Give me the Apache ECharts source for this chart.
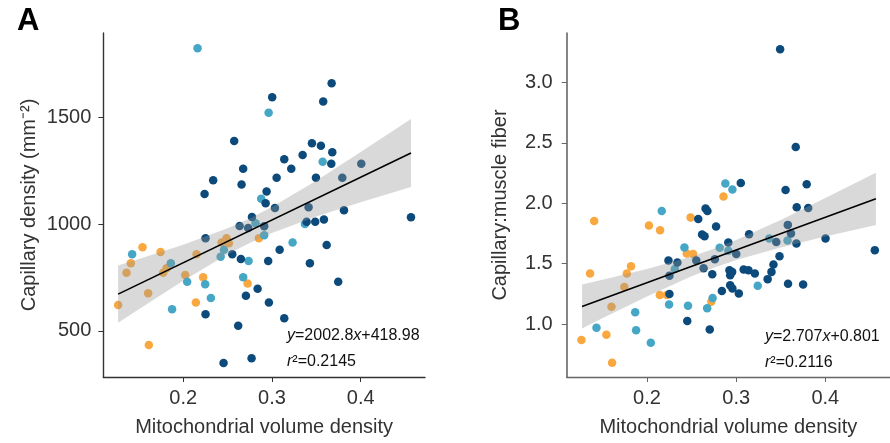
<!DOCTYPE html>
<html>
<head>
<meta charset="utf-8">
<script src="https://cdn.jsdelivr.net/npm/echarts@6/dist/echarts.min.js"></script>
<style>html,body{margin:0;padding:0;background:#fff}</style>
</head>
<body>
<div id="main" style="width:890px;height:443px;"></div>
<script>
// ---- panel A: capillary density vs mitochondrial volume density ----
var aNavy = [[0.3003,1595],[0.2575,1390],[0.3139,1305],[0.3346,1325],[0.2676,1260],[0.3218,1260],[0.2338,1206],[0.2658,1186],
  [0.3053,1218],[0.2241,1142],[0.2940,1153],[0.2929,1098],[0.3034,1076],[0.2775,1034],[0.2636,992],[0.2733,983],[0.2913,991],
  [0.3673,1661],[0.3578,1575],[0.3451,1380],[0.3552,1368],[0.3680,1337],[0.3669,1283],[0.4007,1283],[0.3496,1218],[0.3793,1218],
  [0.3413,1080],[0.3812,1066],[0.4567,1033],[0.3391,1012],[0.3488,1012],[0.3586,1022],[0.3087,880],[0.3617,903],[0.2958,828],
  [0.3428,817],[0.3747,731],[0.2839,698],[0.2966,633],[0.3139,560],[0.2771,372],[0.2252,934],[0.2553,859],[0.2650,837],
  [0.2707,665],[0.2252,578],[0.2620,525],[0.2455,350]];
var aCyan = [[0.2162,1825],[0.2963,1522],[0.2879,1120],[0.2816,1005],[0.3572,1293],[0.3372,1001],[0.2913,949],[0.3233,914],
  [0.2459,880],[0.2422,848],[0.2737,828],[0.1425,859],[0.1861,817],[0.2045,731],[0.2248,719],[0.2676,752],[0.2312,655],[0.1875,602]];
var aOrange = [[0.2853,934],[0.2433,914],[0.2489,934],[0.2515,911],[0.2151,859],[0.1542,892],[0.1745,870],[0.1410,817],
  [0.1362,773],[0.1775,773],[0.1813,794],[0.2023,762],[0.2225,752],[0.2726,722],[0.1605,677],[0.1267,622],[0.2143,633],[0.1613,434]];
var aLineX = [0.1267, 0.4567];
var aLineY = [672.7, 1333.7];
var aBandX  = [0.1267, 0.15, 0.2, 0.25, 0.275, 0.3, 0.35, 0.4, 0.4567];
var aBandLo = [538, 602, 735, 859, 912, 959, 1036, 1103, 1174];
var aBandHi = [807, 837, 904, 981, 1027, 1081, 1204, 1338, 1493];
var aTicksY = [500, 1000, 1500];

// ---- panel B: capillary:muscle fiber ----
var bNavy = [[0.3493,3.275],[0.3668,2.465],[0.3052,2.168],[0.3554,2.110],[0.3791,2.157],[0.3679,1.967],[0.3808,1.961],
  [0.2657,1.956],[0.2678,1.936],[0.2575,1.870],[0.2775,1.807],[0.3579,1.821],[0.2618,1.741],[0.2646,1.727],[0.2912,1.675],
  [0.2241,1.526],[0.2341,1.510],[0.2553,1.526],[0.2761,1.537],[0.2635,1.463],[0.2732,1.413],[0.2252,1.399],[0.2933,1.322],
  [0.2958,1.295],[0.2840,1.273],[0.2252,1.248],[0.2452,1.025],[0.2704,0.956],[0.3145,1.744],[0.3615,1.750],[0.3676,1.667],
  [0.3450,1.680],[0.4002,1.708],[0.4555,1.612],[0.3001,1.579],[0.2925,1.446],[0.2955,1.432],[0.2933,1.405],[0.3084,1.452],
  [0.3138,1.446],[0.3210,1.419],[0.3486,1.562],[0.3418,1.493],[0.3396,1.432],[0.3353,1.372],[0.3582,1.333],[0.3751,1.328],[0.3030,1.254]];
var bCyan = [[0.2879,2.163],[0.2958,2.113],[0.2166,1.936],[0.2420,1.634],[0.2815,1.631],[0.2912,1.606],[0.2312,1.455],
  [0.2248,1.163],[0.2460,1.151],[0.2736,1.215],[0.2675,1.130],[0.1868,1.097],[0.1434,0.969],[0.1878,0.948],[0.2043,0.845],
  [0.3371,1.708],[0.3576,1.692],[0.3242,1.317]];
var bOrange = [[0.2858,2.055],[0.2489,1.882],[0.1408,1.854],[0.2022,1.816],[0.2147,1.777],[0.2446,1.584],[0.2517,1.579],
  [0.1362,1.419],[0.1821,1.479],[0.1774,1.419],[0.1746,1.306],[0.2144,1.240],[0.2223,1.240],[0.1602,1.143],[0.2721,1.184],
  [0.1545,0.912],[0.1265,0.868],[0.1609,0.680]];
var bLineX = [0.1272, 0.4567];
var bLineY = [1.145, 2.037];
var bBandX  = [0.1272, 0.15, 0.2, 0.25, 0.275, 0.3, 0.35, 0.4, 0.4567];
var bBandLo = [0.963, 1.048, 1.228, 1.395, 1.467, 1.530, 1.634, 1.725, 1.821];
var bBandHi = [1.327, 1.366, 1.456, 1.560, 1.623, 1.695, 1.862, 2.043, 2.253];
var bTicksY = [1.0, 1.5, 2.0, 2.5, 3.0];

var xTicks = [0.2, 0.3, 0.4];

var NAVY = '#0b4a7b', CYAN = '#46a6c6', ORANGE = '#f9a840';
var FONT = 'Liberation Sans, Arial, sans-serif';

var chart = echarts.init(document.getElementById('main'));

function dots(data, color, idx) {
  return {
    type: 'scatter', xAxisIndex: idx, yAxisIndex: idx, data: data,
    symbolSize: 8.5, itemStyle: {color: color, opacity: 1}, z: 2, silent: true
  };
}
function band(xs, lo, hi, idx) {
  return {
    type: 'custom', xAxisIndex: idx, yAxisIndex: idx, z: 3, silent: true,
    data: [[xs[0], lo[0]]],
    renderItem: function (params, api) {
      var pts = [];
      for (var i = 0; i < xs.length; i++) pts.push(api.coord([xs[i], hi[i]]));
      for (var j = xs.length - 1; j >= 0; j--) pts.push(api.coord([xs[j], lo[j]]));
      return {type: 'polygon', shape: {points: pts}, style: {fill: 'rgba(150,150,150,0.36)'}};
    }
  };
}
function fit(xs, ys, idx) {
  return {
    type: 'line', xAxisIndex: idx, yAxisIndex: idx, z: 4, silent: true, symbol: 'none',
    data: [[xs[0], ys[0]], [xs[1], ys[1]]],
    lineStyle: {color: '#000', width: 1.6}
  };
}
function xAx(idx, lineColor) {
  return {
    type: 'value', gridIndex: idx, min: 0.11, max: 0.4725,
    name: 'Mitochondrial volume density', nameLocation: 'middle', nameGap: 40,
    nameTextStyle: {fontSize: 20, color: '#333', fontFamily: FONT},
    axisLine: {show: true, onZero: false, lineStyle: {color: lineColor, width: 1.4}},
    axisTick: {show: true, length: 5, customValues: xTicks, lineStyle: {color: lineColor}},
    axisLabel: {customValues: xTicks, fontSize: 20, color: '#333', fontFamily: FONT, margin: 11,
      formatter: function (v) { return v.toFixed(1); }},
    splitLine: {show: false}
  };
}

chart.setOption({
  animation: false,
  grid: [
    {left: 103.3, top: 33, width: 321.7, height: 344},
    {left: 566.7, top: 33, width: 336.8, height: 344}
  ],
  xAxis: [xAx(0, '#333'), xAx(1, '#666')],
  yAxis: [
    {
      type: 'value', gridIndex: 0, min: 284.4, max: 1896,
      name: 'Capillary density (mm\u207B\u00B2)', nameLocation: 'middle', nameGap: 64,
      nameTextStyle: {fontSize: 20, color: '#333', fontFamily: FONT},
      axisLine: {show: true, lineStyle: {color: '#333', width: 1.4}},
      axisTick: {show: true, length: 5, customValues: aTicksY, lineStyle: {color: '#333'}},
      axisLabel: {customValues: aTicksY, fontSize: 20, color: '#333', fontFamily: FONT, margin: 12,
        formatter: function (v) { return String(Math.round(v)); }},
      splitLine: {show: false}
    },
    {
      type: 'value', gridIndex: 1, min: 0.562, max: 3.409,
      name: 'Capillary:muscle fiber', nameLocation: 'middle', nameGap: 56,
      nameTextStyle: {fontSize: 20, color: '#333', fontFamily: FONT},
      axisLine: {show: true, lineStyle: {color: '#666', width: 1.6}},
      axisTick: {show: true, length: 5, customValues: bTicksY, lineStyle: {color: '#666'}},
      axisLabel: {customValues: bTicksY, fontSize: 20, color: '#333', fontFamily: FONT, margin: 14,
        formatter: function (v) { return v.toFixed(1); }},
      splitLine: {show: false}
    }
  ],
  series: [
    dots(aOrange, ORANGE, 0), dots(aCyan, CYAN, 0), dots(aNavy, NAVY, 0),
    band(aBandX, aBandLo, aBandHi, 0), fit(aLineX, aLineY, 0),
    dots(bOrange, ORANGE, 1), dots(bCyan, CYAN, 1), dots(bNavy, NAVY, 1),
    band(bBandX, bBandLo, bBandHi, 1), fit(bLineX, bLineY, 1)
  ],
  graphic: [
    {type: 'text', left: 17, top: 6, style: {text: 'A', font: 'bold 31px ' + FONT, fill: '#000'}},
    {type: 'text', left: 498, top: 6, style: {text: 'B', font: 'bold 31px ' + FONT, fill: '#000'}},
    {type: 'text', left: 287, top: 328, style: {text: '{i|y}=2002.8{i|x}+418.98', fontSize: 16, fontFamily: FONT, fill: '#111',
      rich: {i: {fontStyle: 'italic', fontSize: 16, fontFamily: FONT}}}},
    {type: 'text', left: 287, top: 354, style: {text: '{i|r}\u00B2=0.2145', fontSize: 16, fontFamily: FONT, fill: '#111',
      rich: {i: {fontStyle: 'italic', fontSize: 16, fontFamily: FONT}}}},
    {type: 'text', left: 765, top: 329, style: {text: '{i|y}=2.707{i|x}+0.801', fontSize: 16, fontFamily: FONT, fill: '#111',
      rich: {i: {fontStyle: 'italic', fontSize: 16, fontFamily: FONT}}}},
    {type: 'text', left: 765, top: 355, style: {text: '{i|r}\u00B2=0.2116', fontSize: 16, fontFamily: FONT, fill: '#111',
      rich: {i: {fontStyle: 'italic', fontSize: 16, fontFamily: FONT}}}}
  ]
});
</script>
</body>
</html>
